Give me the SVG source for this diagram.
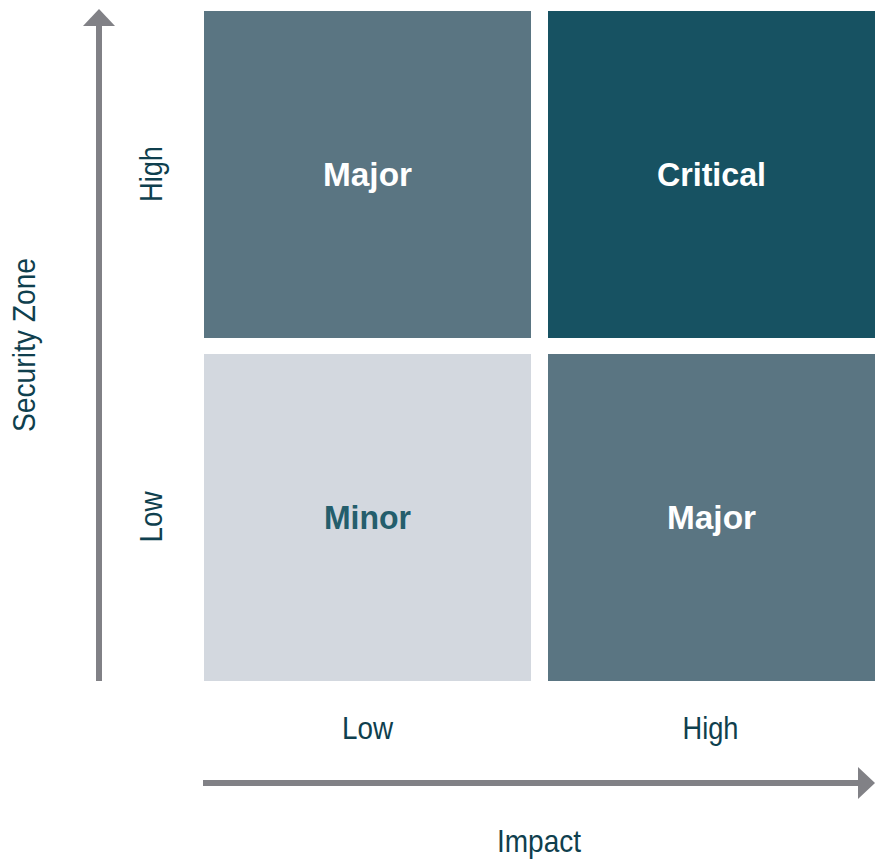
<svg xmlns="http://www.w3.org/2000/svg" width="876" height="859" viewBox="0 0 876 859">
  <style>
    .cell-text { font-family: "Liberation Sans", Arial, sans-serif; font-weight: bold; font-size: 33px; text-anchor: middle; }
    .axis-text { font-family: "Liberation Sans", Arial, sans-serif; font-size: 32px; fill: #0f3f4e; text-anchor: middle; }
    .axis { fill: #818186; }
  </style>
  <rect width="876" height="859" fill="#ffffff"/>

  <!-- Risk matrix cells -->
  <g id="cell-high-low">
    <rect x="204" y="11" width="327" height="327" fill="#5a7582"/>
    <text class="cell-text" x="367.5" y="186" fill="#ffffff" textLength="89" lengthAdjust="spacingAndGlyphs">Major</text>
  </g>
  <g id="cell-high-high">
    <rect x="548" y="11" width="327" height="327" fill="#175262"/>
    <text class="cell-text" x="711.5" y="186" fill="#ffffff" textLength="109" lengthAdjust="spacingAndGlyphs">Critical</text>
  </g>
  <g id="cell-low-low">
    <rect x="204" y="354" width="327" height="327" fill="#d3d8df"/>
    <text class="cell-text" x="367.5" y="529" fill="#245e6c" textLength="87" lengthAdjust="spacingAndGlyphs">Minor</text>
  </g>
  <g id="cell-low-high">
    <rect x="548" y="354" width="327" height="327" fill="#5a7582"/>
    <text class="cell-text" x="711.5" y="529" fill="#ffffff" textLength="89" lengthAdjust="spacingAndGlyphs">Major</text>
  </g>

  <!-- Axes -->
  <g id="connectors">
    <rect class="axis" x="96" y="25" width="6" height="656"/>
    <polygon class="axis" points="83,26 99,9 115,26"/>
    <rect class="axis" x="203" y="780" width="656" height="6"/>
    <polygon class="axis" points="858,767 875,783 858,799"/>
  </g>

  <!-- Axis labels -->
  <g id="label-y-axis">
    <text class="axis-text" transform="translate(35,345) rotate(-90)" textLength="174" lengthAdjust="spacingAndGlyphs">Security Zone</text>
  </g>
  <g id="label-y-high">
    <text class="axis-text" transform="translate(162,174) rotate(-90)" textLength="56" lengthAdjust="spacingAndGlyphs">High</text>
  </g>
  <g id="label-y-low">
    <text class="axis-text" transform="translate(162,517) rotate(-90)" textLength="51" lengthAdjust="spacingAndGlyphs">Low</text>
  </g>
  <g id="label-x-low">
    <text class="axis-text" x="367.5" y="739" textLength="51" lengthAdjust="spacingAndGlyphs">Low</text>
  </g>
  <g id="label-x-high">
    <text class="axis-text" x="710.5" y="739" textLength="56" lengthAdjust="spacingAndGlyphs">High</text>
  </g>
  <g id="label-x-axis">
    <text class="axis-text" x="539" y="852" textLength="84" lengthAdjust="spacingAndGlyphs">Impact</text>
  </g>
</svg>
